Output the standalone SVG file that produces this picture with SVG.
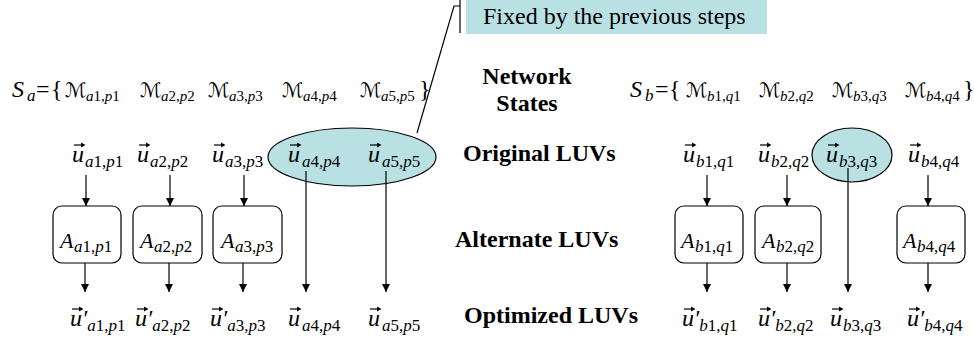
<svg xmlns="http://www.w3.org/2000/svg" xmlns:xlink="http://www.w3.org/1999/xlink" width="974" height="347" viewBox="0 0 974 347" font-family="'Liberation Serif', Tinos, 'Times New Roman', Times, 'DejaVu Serif', 'Noto Serif', serif">
<style>
text{font-family:'Liberation Serif',Tinos,'Times New Roman',Times,'DejaVu Serif','Noto Serif',serif;fill:#000}
.mi{font-style:italic;font-size:24px}
.mA{font-style:italic;font-size:22px}
.rg{font-size:24px}
.sub{font-size:17px}
.ssub{font-size:15px}
.i{font-style:italic}
.scr{font-family:'DejaVu Serif','DejaVu Sans','Liberation Serif',serif;font-size:20px}
.lbl{font-weight:bold;font-size:24px}
.box{fill:#fff;stroke:#000;stroke-width:1.2}
.hl{fill:#b9e0e3;stroke:#000;stroke-width:1.2}
.ln{stroke:#000;stroke-width:1.2;fill:none}
.ar{stroke:#000;stroke-width:1.2;fill:none;marker-end:url(#ah)}
</style>
<defs>
<marker id="ah" markerUnits="userSpaceOnUse" markerWidth="9" markerHeight="9" refX="8" refY="4" orient="auto"><path d="M0,0 L8,4 L0,8 z" fill="#000"/></marker>
<g id="vec"><path d="M0,0 H9" stroke="#000" stroke-width="1.2"/><path d="M7,-2.5 L11.5,0 L7,2.5 z" fill="#000"/></g>
</defs>
<rect width="974" height="347" fill="#fff"/>

<g id="callout">
<rect x="466" y="-1" width="301" height="35" fill="#b9e0e3"/>
<path class="ln" d="M460,0 V33"/>
<path class="ln" d="M417,133 L454,6 L460,6"/>
<text class="rg" x="483" y="24">Fixed by the previous steps</text>
</g>

<g id="labels">
<text class="lbl" x="527" y="84" text-anchor="middle">Network</text>
<text class="lbl" x="527" y="111" text-anchor="middle">States</text>
<text class="lbl" x="463" y="161">Original LUVs</text>
<text class="lbl" x="455" y="247">Alternate LUVs</text>
<text class="lbl" x="464" y="323">Optimized LUVs</text>
</g>

<g id="states-a">
<text x="12" y="97"><tspan class="mi">S</tspan><tspan class="sub i" x="27" dy="4">a</tspan><tspan class="rg" x="36" dy="-4">=</tspan><tspan class="rg" x="51">{</tspan></text>
<text x="65" y="97"><tspan class="scr">ℳ</tspan><tspan class="ssub" x="86" dy="4"><tspan class="i">a</tspan>1,<tspan class="i">p</tspan>1</tspan></text>
<text x="140" y="97"><tspan class="scr">ℳ</tspan><tspan class="ssub" x="161" dy="4"><tspan class="i">a</tspan>2,<tspan class="i">p</tspan>2</tspan></text>
<text x="208" y="97"><tspan class="scr">ℳ</tspan><tspan class="ssub" x="229" dy="4"><tspan class="i">a</tspan>3,<tspan class="i">p</tspan>3</tspan></text>
<text x="282" y="97"><tspan class="scr">ℳ</tspan><tspan class="ssub" x="303" dy="4"><tspan class="i">a</tspan>4,<tspan class="i">p</tspan>4</tspan></text>
<text x="360" y="97"><tspan class="scr">ℳ</tspan><tspan class="ssub" x="381" dy="4"><tspan class="i">a</tspan>5,<tspan class="i">p</tspan>5</tspan></text>
<text class="rg" x="419" y="97">}</text>
</g>

<g id="states-b">
<text x="630" y="97"><tspan class="mi">S</tspan><tspan class="sub i" x="645" dy="4">b</tspan><tspan class="rg" x="655" dy="-4">=</tspan><tspan class="rg" x="669">{</tspan></text>
<text x="686" y="97"><tspan class="scr">ℳ</tspan><tspan class="ssub" x="707" dy="4"><tspan class="i">b</tspan>1,<tspan class="i">q</tspan>1</tspan></text>
<text x="759" y="97"><tspan class="scr">ℳ</tspan><tspan class="ssub" x="780" dy="4"><tspan class="i">b</tspan>2,<tspan class="i">q</tspan>2</tspan></text>
<text x="832" y="97"><tspan class="scr">ℳ</tspan><tspan class="ssub" x="853" dy="4"><tspan class="i">b</tspan>3,<tspan class="i">q</tspan>3</tspan></text>
<text x="905" y="97"><tspan class="scr">ℳ</tspan><tspan class="ssub" x="926" dy="4"><tspan class="i">b</tspan>4,<tspan class="i">q</tspan>4</tspan></text>
<text class="rg" x="963" y="97">}</text>
</g>

<g id="fixed-a">
<ellipse class="hl" cx="352" cy="157" rx="84" ry="29"/>
</g>
<g id="fixed-b">
<ellipse class="hl" cx="852" cy="155" rx="40" ry="27"/>
</g>

<g id="original">
<g id="u-a1"><use xlink:href="#vec" x="74" y="145"/><text x="72" y="162"><tspan class="mi">u</tspan><tspan class="sub" x="85" dy="5"><tspan class="i">a</tspan>1,<tspan class="i">p</tspan>1</tspan></text></g>
<g id="u-a2"><use xlink:href="#vec" x="139" y="145"/><text x="137" y="162"><tspan class="mi">u</tspan><tspan class="sub" x="150" dy="5"><tspan class="i">a</tspan>2,<tspan class="i">p</tspan>2</tspan></text></g>
<g id="u-a3"><use xlink:href="#vec" x="214" y="145"/><text x="212" y="162"><tspan class="mi">u</tspan><tspan class="sub" x="225" dy="5"><tspan class="i">a</tspan>3,<tspan class="i">p</tspan>3</tspan></text></g>
<g id="u-a4"><use xlink:href="#vec" x="290" y="145"/><text x="288" y="162"><tspan class="mi">u</tspan><tspan class="sub" x="302" dy="5"><tspan class="i">a</tspan>4,<tspan class="i">p</tspan>4</tspan></text></g>
<g id="u-a5"><use xlink:href="#vec" x="370" y="145"/><text x="368" y="162"><tspan class="mi">u</tspan><tspan class="sub" x="382" dy="5"><tspan class="i">a</tspan>5,<tspan class="i">p</tspan>5</tspan></text></g>
<g id="u-b1"><use xlink:href="#vec" x="685" y="145"/><text x="683" y="162"><tspan class="mi">u</tspan><tspan class="sub" x="696" dy="5"><tspan class="i">b</tspan>1,<tspan class="i">q</tspan>1</tspan></text></g>
<g id="u-b2"><use xlink:href="#vec" x="760" y="145"/><text x="758" y="162"><tspan class="mi">u</tspan><tspan class="sub" x="771" dy="5"><tspan class="i">b</tspan>2,<tspan class="i">q</tspan>2</tspan></text></g>
<g id="u-b3"><use xlink:href="#vec" x="828" y="145"/><text x="826" y="162"><tspan class="mi">u</tspan><tspan class="sub" x="839" dy="5"><tspan class="i">b</tspan>3,<tspan class="i">q</tspan>3</tspan></text></g>
<g id="u-b4"><use xlink:href="#vec" x="910" y="145"/><text x="908" y="162"><tspan class="mi">u</tspan><tspan class="sub" x="921" dy="5"><tspan class="i">b</tspan>4,<tspan class="i">q</tspan>4</tspan></text></g>
</g>

<g id="alternate">
<g id="A-a1"><rect class="box" x="53" y="206" width="68" height="57" rx="9"/><text x="60" y="248"><tspan class="mA">A</tspan><tspan class="sub" x="74" dy="4"><tspan class="i">a</tspan>1,<tspan class="i">p</tspan>1</tspan></text></g>
<g id="A-a2"><rect class="box" x="133" y="206" width="69" height="57" rx="9"/><text x="140" y="248"><tspan class="mA">A</tspan><tspan class="sub" x="154" dy="4"><tspan class="i">a</tspan>2,<tspan class="i">p</tspan>2</tspan></text></g>
<g id="A-a3"><rect class="box" x="213" y="206" width="69" height="57" rx="9"/><text x="221" y="248"><tspan class="mA">A</tspan><tspan class="sub" x="235" dy="4"><tspan class="i">a</tspan>3,<tspan class="i">p</tspan>3</tspan></text></g>
<g id="A-b1"><rect class="box" x="675" y="206" width="68" height="57" rx="9"/><text x="681" y="248"><tspan class="mA">A</tspan><tspan class="sub" x="695" dy="4"><tspan class="i">b</tspan>1,<tspan class="i">q</tspan>1</tspan></text></g>
<g id="A-b2"><rect class="box" x="755" y="206" width="66" height="57" rx="9"/><text x="762" y="248"><tspan class="mA">A</tspan><tspan class="sub" x="776" dy="4"><tspan class="i">b</tspan>2,<tspan class="i">q</tspan>2</tspan></text></g>
<g id="A-b4"><rect class="box" x="897" y="206" width="68" height="57" rx="9"/><text x="903" y="248"><tspan class="mA">A</tspan><tspan class="sub" x="917" dy="4"><tspan class="i">b</tspan>4,<tspan class="i">q</tspan>4</tspan></text></g>
</g>

<g id="optimized">
<g id="o-a1"><use xlink:href="#vec" x="72" y="309"/><text x="70" y="326"><tspan class="mi">u′</tspan><tspan class="sub" dy="5"><tspan class="i">a</tspan>1,<tspan class="i">p</tspan>1</tspan></text></g>
<g id="o-a2"><use xlink:href="#vec" x="137" y="309"/><text x="135" y="326"><tspan class="mi">u′</tspan><tspan class="sub" dy="5"><tspan class="i">a</tspan>2,<tspan class="i">p</tspan>2</tspan></text></g>
<g id="o-a3"><use xlink:href="#vec" x="212" y="309"/><text x="210" y="326"><tspan class="mi">u′</tspan><tspan class="sub" dy="5"><tspan class="i">a</tspan>3,<tspan class="i">p</tspan>3</tspan></text></g>
<g id="o-a4"><use xlink:href="#vec" x="290" y="309"/><text x="288" y="326"><tspan class="mi">u</tspan><tspan class="sub" x="302" dy="5"><tspan class="i">a</tspan>4,<tspan class="i">p</tspan>4</tspan></text></g>
<g id="o-a5"><use xlink:href="#vec" x="370" y="309"/><text x="368" y="326"><tspan class="mi">u</tspan><tspan class="sub" x="382" dy="5"><tspan class="i">a</tspan>5,<tspan class="i">p</tspan>5</tspan></text></g>
<g id="o-b1"><use xlink:href="#vec" x="684" y="309"/><text x="682" y="326"><tspan class="mi">u′</tspan><tspan class="sub" dy="5"><tspan class="i">b</tspan>1,<tspan class="i">q</tspan>1</tspan></text></g>
<g id="o-b2"><use xlink:href="#vec" x="760" y="309"/><text x="758" y="326"><tspan class="mi">u′</tspan><tspan class="sub" dy="5"><tspan class="i">b</tspan>2,<tspan class="i">q</tspan>2</tspan></text></g>
<g id="o-b3"><use xlink:href="#vec" x="832" y="309"/><text x="830" y="326"><tspan class="mi">u</tspan><tspan class="sub" x="843" dy="5"><tspan class="i">b</tspan>3,<tspan class="i">q</tspan>3</tspan></text></g>
<g id="o-b4"><use xlink:href="#vec" x="909" y="309"/><text x="907" y="326"><tspan class="mi">u′</tspan><tspan class="sub" dy="5"><tspan class="i">b</tspan>4,<tspan class="i">q</tspan>4</tspan></text></g>
</g>

<g id="connectors">
<path class="ar" d="M86,175 V206"/>
<path class="ar" d="M170,175 V206"/>
<path class="ar" d="M244,175 V206"/>
<path class="ar" d="M85,263 V292"/>
<path class="ar" d="M169,263 V292"/>
<path class="ar" d="M243,263 V292"/>
<path class="ar" d="M306,171 V292"/>
<path class="ar" d="M386,171 V292"/>
<path class="ar" d="M707,175 V206"/>
<path class="ar" d="M787,175 V206"/>
<path class="ar" d="M928,175 V206"/>
<path class="ar" d="M707,263 V292"/>
<path class="ar" d="M787,263 V292"/>
<path class="ar" d="M928,263 V292"/>
<path class="ar" d="M848,168 V292"/>
</g>
</svg>
